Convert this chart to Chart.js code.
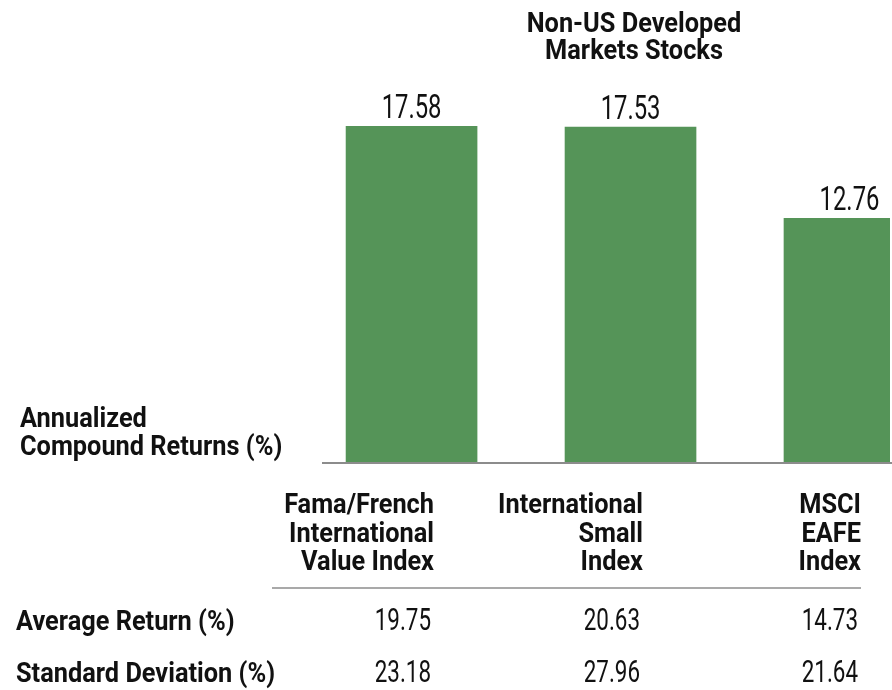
<!DOCTYPE html>
<html>
<head>
<meta charset="utf-8">
<script src="https://cdn.jsdelivr.net/npm/chart.js@4.4.1/dist/chart.umd.min.js"></script>
<style>
  html, body { margin: 0; padding: 0; background: #fff; overflow: hidden; }
  canvas { display: block; }
</style>
</head>
<body>
<canvas id="chart" width="892" height="690"></canvas>
<script>
// Données du graphique
const categories = [
    ['Fama/French', 'International', 'Value Index'],
    ['International', 'Small', 'Index'],
    ['MSCI', 'EAFE', 'Index']
];
const compoundReturns = [17.58, 17.53, 12.76];
const averageReturns = [19.75, 20.63, 14.73];
const stdDeviations = [23.18, 27.96, 21.64];
const rowLabels = ['Average Return (%)', 'Standard Deviation (%)'];
const chartTitle = ['Non-US Developed', 'Markets Stocks'];
const axisTitle = ['Annualized', 'Compound Returns (%)'];

const GREEN = '#559458';
const INK = '#111111';
const RULE = '#8c8c8c';
const BOLD = '700 28px Roboto';
const NUM = '400 32px Roboto';
const LABEL = '400 34px Roboto';
const SX_BOLD = 0.905;
const SX_NUM = 0.7;

/**
 * Écrit un texte compressé horizontalement (police condensée simulée).
 */
function drawText(ctx, text, x, y, font, align, sx) {
    ctx.save();
    ctx.translate(x, y);
    ctx.scale(sx, 1);
    ctx.font = font;
    ctx.fillStyle = INK;
    ctx.textAlign = align;
    ctx.textBaseline = 'alphabetic';
    ctx.fillText(text, 0, 0);
    ctx.restore();
}

const baselinePlugin = {
    id: 'baseline',
    beforeDatasetsDraw(chart) {
        const { ctx, chartArea } = chart;
        ctx.save();
        ctx.strokeStyle = RULE;
        ctx.lineWidth = 2;
        ctx.beginPath();
        ctx.moveTo(chartArea.left, chartArea.bottom + 1);
        ctx.lineTo(chart.width, chartArea.bottom + 1);
        ctx.stroke();
        ctx.restore();
    }
};

const textPlugin = {
    id: 'tableText',
    afterDraw(chart) {
        const { ctx, chartArea } = chart;
        const bars = chart.getDatasetMeta(0).data;

        // valeurs au-dessus des barres
        ctx.save();
        ctx.font = LABEL;
        bars.forEach((bar, i) => {
            const s = compoundReturns[i].toFixed(2);
            const w = ctx.measureText(s).width * SX_NUM;
            const x = Math.min(bar.x, chartArea.right - 2 - w / 2);
            drawText(ctx, s, x, bar.y - 8, LABEL, 'center', SX_NUM);
        });
        ctx.restore();

        // titre
        chartTitle.forEach((line, i) => drawText(ctx, line, 634, 32 + i * 27, BOLD, 'center', SX_BOLD));
        // titre de l'axe
        axisTitle.forEach((line, i) => drawText(ctx, line, 20, 427 + i * 28, BOLD, 'left', SX_BOLD));

        // tableau sous le graphique
        const colRight = [434, 643, 861];
        categories.forEach((lines, i) => {
            lines.forEach((line, j) => drawText(ctx, line, colRight[i], 513 + j * 28.5, BOLD, 'right', SX_BOLD));
        });

        ctx.save();
        ctx.strokeStyle = RULE;
        ctx.lineWidth = 1.5;
        ctx.beginPath();
        ctx.moveTo(272, 588);
        ctx.lineTo(861, 588);
        ctx.stroke();
        ctx.restore();

        [averageReturns, stdDeviations].forEach((row, r) => {
            const y = 630 + r * 52;
            drawText(ctx, rowLabels[r], 16, y, BOLD, 'left', SX_BOLD);
            row.forEach((v, i) => drawText(ctx, v.toFixed(2), colRight[i] - 3, y, NUM, 'right', SX_NUM));
        });
    }
};

new Chart(document.getElementById('chart').getContext('2d'), {
    type: 'bar',
    data: {
        datasets: [{
            data: compoundReturns.map((v, i) => ({ x: i, y: v })),
            backgroundColor: GREEN,
            borderWidth: 0,
            barThickness: 131
        }]
    },
    options: {
        responsive: false,
        animation: false,
        devicePixelRatio: 1,
        layout: { padding: { left: 322, right: 2, top: 80, bottom: 228 } },
        scales: {
            x: { type: 'linear', min: -0.409, max: 2.185, offset: false, grid: { offset: false }, display: false },
            y: { min: 0, max: 20, display: false }
        },
        plugins: { legend: { display: false }, tooltip: { enabled: false } }
    },
    plugins: [baselinePlugin, textPlugin]
});
</script>
</body>
</html>
